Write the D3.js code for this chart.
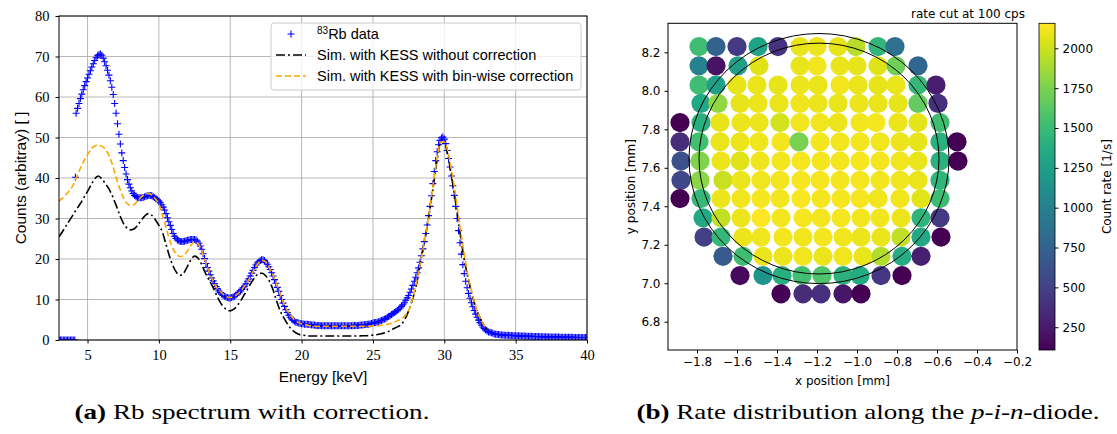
<!DOCTYPE html>
<html>
<head>
<meta charset="utf-8">
<script src="https://cdn.jsdelivr.net/npm/d3@7"></script>
<style>
body { margin: 0; background: #fff; }
</style>
</head>
<body>
<div id="chart"></div>
<script>
// ---- (a) spectrum: values ----
var lowEnergy = [3.0, 3.1, 3.2, 3.3, 3.4, 3.5, 3.6, 3.7, 3.8, 3.9, 4.0, 4.1, 4.15];
var lowCounts = [0, 0, 0, 0, 0, 0, 0, 0, 0, 0, 0, 0, 40.2];

// measured data, bins of 0.1 keV starting at 4.2 keV
var dataStart = 4.2, dataStep = 0.1;
var dataCounts = [
	56.0, 57.2, 58.4, 59.6, 60.7, 61.8, 62.8, 63.8,
	64.7, 65.6, 66.5, 67.4, 68.2, 69.0, 69.7, 70.2, 70.5, 70.6,
	70.3, 69.6, 68.7, 67.7, 66.6, 65.4, 64.0, 62.4, 60.6, 58.4,
	56.0, 53.4, 50.8, 48.4, 46.2, 44.3, 42.6, 41.0, 39.6, 38.5,
	37.6, 36.8, 36.2, 35.7, 35.4, 35.2, 35.1, 35.1, 35.1, 35.2,
	35.4, 35.5, 35.6, 35.7, 35.7, 35.6, 35.4, 35.2, 34.9, 34.6,
	34.3, 33.9, 33.4, 32.8, 32.1, 31.2, 30.2, 29.2, 28.3, 27.3,
	26.3, 25.6, 25.1, 24.7, 24.5, 24.3, 24.3, 24.3, 24.4, 24.5,
	24.6, 24.7, 24.8, 24.8, 24.8, 24.8, 24.7, 24.4, 23.9, 23.2,
	22.4, 21.3, 20.1, 18.9, 17.9, 17.0, 16.1, 15.3, 14.6, 13.9,
	13.2, 12.7, 12.1, 11.7, 11.3, 11.0, 10.8, 10.6, 10.5, 10.4,
	10.4, 10.5, 10.6, 10.8, 11.1, 11.4, 11.7, 12.1, 12.5, 12.9,
	13.3, 13.9, 14.5, 15.1, 15.8, 16.5, 17.2, 17.9, 18.5, 19.0,
	19.3, 19.6, 19.8, 19.8, 19.6, 19.2, 18.7, 18.1, 17.4, 16.6,
	15.8, 14.9, 14.0, 13.0, 12.0, 11.0, 10.0, 9.1, 8.3, 7.5,
	6.8, 6.1, 5.6, 5.2, 4.9, 4.6, 4.4, 4.3, 4.2, 4.1,
	4.0, 4.0, 3.9, 3.9, 3.9, 3.8, 3.8, 3.7, 3.7, 3.7,
	3.6, 3.6, 3.6, 3.6, 3.5, 3.5, 3.5, 3.5, 3.5, 3.5,
	3.5, 3.5, 3.5, 3.5, 3.5, 3.5, 3.5, 3.5, 3.5, 3.5,
	3.5, 3.5, 3.5, 3.5, 3.5, 3.5, 3.5, 3.6, 3.6, 3.6,
	3.6, 3.7, 3.7, 3.7, 3.8, 3.8, 3.9, 3.9, 4.0, 4.1,
	4.2, 4.3, 4.3, 4.4, 4.5, 4.7, 4.8, 5.0, 5.1, 5.3,
	5.6, 5.8, 6.0, 6.3, 6.5, 6.8, 7.0, 7.3, 7.6, 7.9,
	8.3, 8.7, 9.2, 9.8, 10.4, 11.0, 11.8, 12.6, 13.5, 14.5,
	15.5, 16.6, 17.8, 19.2, 20.8, 22.5, 24.3, 26.3, 28.4, 30.7,
	33.0, 35.6, 38.6, 41.6, 44.3, 46.5, 48.2, 49.3, 49.9, 50.1,
	49.6, 48.5, 46.8, 44.8, 42.7, 40.5, 38.1, 35.7, 33.0, 30.0,
	27.0, 24.0, 21.2, 18.6, 16.4, 14.5, 12.9, 11.5, 10.3, 9.2,
	8.2, 7.3, 6.4, 5.6, 4.9, 4.3, 3.7, 3.2, 2.8, 2.5,
	2.2, 2.0, 1.9, 1.8, 1.65, 1.5, 1.45, 1.4, 1.35, 1.3,
	1.25, 1.22, 1.2, 1.2, 1.18, 1.15, 1.14, 1.12, 1.1, 1.08,
	1.05, 1.04, 1.02, 1.0, 1.0, 0.98, 0.97, 0.95, 0.94, 0.92,
	0.9, 0.9, 0.88, 0.87, 0.86, 0.85, 0.84, 0.83, 0.82, 0.81,
	0.8, 0.79, 0.78, 0.77, 0.76, 0.75, 0.75, 0.74, 0.73, 0.72,
	0.71, 0.7, 0.7, 0.69, 0.68, 0.68, 0.67, 0.66, 0.66, 0.65,
	0.65, 0.64, 0.63, 0.63, 0.62, 0.62, 0.61, 0.61, 0.6, 0.6,
	0.6
];

// simulations, 0.25 keV steps from 3 keV
var simStart = 3.0, simStep = 0.25;
var simNoCorr = [
	25.5, 26.8, 28.2, 29.6, 31.0, 32.4, 33.7, 35.2, 36.7, 38.3, 39.8, 40.5, 39.8, 38.6, 37.3, 35.5,
	33.3, 30.9, 28.9, 27.7, 27.2, 27.4, 28.3, 29.5, 30.6, 31.2, 30.8, 29.7, 28.3, 26.6, 23.6, 20.6,
	18.2, 16.6, 16.0, 16.6, 18.2, 19.8, 20.7, 20.2, 18.6, 16.6, 14.9, 13.3, 11.4, 9.6, 8.3, 7.5,
	7.2, 7.6, 8.5, 9.8, 11.3, 12.8, 14.3, 15.6, 16.4, 16.5, 15.8, 14.5, 12.4, 9.6, 7.2, 5.5,
	4.0, 2.8, 2.0, 1.5, 1.25, 1.1, 1.0, 1.0, 1.0, 1.0, 1.0, 1.0, 1.0, 1.0, 1.0, 1.0,
	1.0, 1.0, 1.0, 1.0, 1.0, 1.05, 1.05, 1.1, 1.2, 1.3, 1.5, 1.7, 2.0, 2.4, 2.9, 3.3,
	3.9, 5.2, 7.2, 9.8, 12.8, 17.5, 22.5, 27.0, 32.5, 38.5, 44.5, 48.8, 48.6, 45.5, 40.5, 35.0,
	29.0, 23.0, 18.0, 14.0, 10.5, 7.6, 5.5, 3.8, 2.6
];
var simCorr = [
	34.2, 35.1, 36.0, 37.0, 38.3, 40.4, 42.4, 44.2, 45.8, 47.1, 47.9, 48.1, 47.8, 47.1, 45.6, 43.2,
	40.2, 37.5, 35.3, 33.8, 33.2, 33.4, 34.3, 35.3, 35.9, 36.2, 35.8, 34.9, 33.5, 30.8, 27.8, 24.7,
	22.5, 21.1, 20.6, 20.9, 22.0, 23.4, 24.3, 23.8, 22.0, 19.5, 16.9, 14.9, 13.2, 12.2, 11.3, 10.7,
	10.5, 10.8, 11.3, 12.2, 13.3, 14.6, 16.2, 17.8, 19.1, 19.7, 19.2, 17.8, 16.0, 13.9, 11.4, 9.1,
	7.3, 6.0, 5.0, 4.4, 4.0, 3.8, 3.6, 3.5, 3.4, 3.4, 3.4, 3.4, 3.4, 3.4, 3.4, 3.4,
	3.4, 3.4, 3.4, 3.4, 3.4, 3.4, 3.4, 3.4, 3.5, 3.5, 3.6, 3.7, 3.9, 4.1, 4.4, 4.8,
	5.2, 6.0, 7.3, 10.0, 13.3, 17.5, 22.3, 27.3, 32.8, 39.3, 45.0, 48.8, 48.9, 46.5, 42.0, 36.8,
	30.5, 24.5, 19.0, 14.5, 10.8, 7.8, 5.5, 3.9, 2.7
];
var energyTicks = [5, 10, 15, 20, 25, 30, 35, 40];
var countTicks = [0, 10, 20, 30, 40, 50, 60, 70, 80];

// ---- (b) rate map: one entry per scan row ----
var rowY = [8.23, 8.13, 8.03, 7.935, 7.835, 7.735, 7.635, 7.535, 7.44, 7.34, 7.24, 7.14, 7.04, 6.945];
var rowX = [
	[-1.79, -1.705, -1.60, -1.495, -1.395, -1.285, -1.20, -1.095, -1.005, -0.895, -0.81],
	[-1.79, -1.705, -1.595, -1.49, -1.285, -1.20, -1.085, -1.00, -0.895, -0.805, -0.695],
	[-1.79, -1.705, -1.60, -1.50, -1.395, -1.285, -1.195, -1.085, -0.995, -0.895, -0.805, -0.695, -0.605],
	[-1.78, -1.695, -1.585, -1.495, -1.39, -1.285, -1.195, -1.095, -0.99, -0.895, -0.795, -0.695, -0.595],
	[-1.885, -1.78, -1.685, -1.58, -1.49, -1.385, -1.285, -1.185, -1.095, -0.985, -0.905, -0.795, -0.695, -0.585],
	[-1.885, -1.79, -1.685, -1.585, -1.49, -1.38, -1.29, -1.185, -1.085, -0.985, -0.885, -0.785, -0.695, -0.585, -0.50],
	[-1.88, -1.785, -1.68, -1.585, -1.485, -1.38, -1.28, -1.18, -1.085, -0.985, -0.885, -0.785, -0.695, -0.585, -0.495],
	[-1.88, -1.785, -1.67, -1.58, -1.48, -1.385, -1.28, -1.185, -1.085, -0.985, -0.885, -0.785, -0.695, -0.585],
	[-1.885, -1.78, -1.68, -1.58, -1.48, -1.385, -1.28, -1.18, -1.08, -0.985, -0.895, -0.785, -0.68, -0.585],
	[-1.77, -1.68, -1.58, -1.48, -1.38, -1.27, -1.18, -1.08, -0.98, -0.885, -0.78, -0.68, -0.585],
	[-1.765, -1.68, -1.57, -1.48, -1.37, -1.27, -1.17, -1.07, -0.98, -0.88, -0.78, -0.68, -0.58],
	[-1.67, -1.57, -1.47, -1.37, -1.27, -1.17, -1.07, -0.97, -0.88, -0.775, -0.68],
	[-1.585, -1.47, -1.375, -1.275, -1.175, -1.07, -0.985, -0.88, -0.775],
	[-1.38, -1.27, -1.18, -1.07, -0.98]
];
var rowRate = [
	[1530, 740, 455, 1295, 400, 2090, 2100, 2080, 1940, 1450, 865],
	[1010, 210, 1255, 2060, 2090, 2110, 2090, 2080, 2060, 1715, 780],
	[1530, 1265, 2080, 2090, 2080, 2100, 2090, 2110, 2090, 2080, 2090, 1470, 270],
	[1335, 1820, 2080, 2100, 2090, 2110, 2100, 2090, 2100, 2090, 2080, 1665, 390],
	[110, 1410, 2080, 2100, 2100, 2020, 2110, 2110, 2100, 2110, 2130, 2100, 2070, 1530],
	[360, 1540, 2090, 2100, 2110, 2120, 1745, 2120, 2110, 2120, 2110, 2100, 2080, 1410, 110],
	[610, 1765, 2100, 2055, 2110, 2120, 2130, 2120, 2120, 2130, 2120, 2110, 2090, 1420, 110],
	[540, 1800, 1985, 2100, 2110, 2120, 2130, 2130, 2120, 2130, 2120, 2110, 2090, 1450],
	[110, 1470, 2100, 2110, 2130, 2120, 2140, 2120, 2130, 2130, 2110, 2110, 2065, 1520],
	[1335, 1970, 2100, 2157, 2120, 2130, 2120, 2130, 2120, 2110, 2100, 1440, 455],
	[485, 1470, 2100, 2110, 2120, 2110, 2120, 2110, 2100, 2090, 1960, 1335, 110],
	[690, 1520, 2090, 2100, 2110, 2100, 2110, 2090, 1920, 1365, 290],
	[150, 1170, 1390, 1540, 1585, 1420, 1360, 435, 110],
	[120, 360, 390, 220, 110]
];
var diodeCenter = [-1.19, 7.648];
var diodeRadii = [0.6, 0.65];
var posXTicks = [-1.8, -1.6, -1.4, -1.2, -1.0, -0.8, -0.6, -0.4, -0.2];
var posYTicks = [6.8, 7.0, 7.2, 7.4, 7.6, 7.8, 8.0, 8.2];
var rateTicks = [250, 500, 750, 1000, 1250, 1500, 1750, 2000];
var rateExtent = [107, 2157];

var SANS = "'Liberation Sans', Arial, sans-serif";
var SERIF = "'Liberation Serif', 'Times New Roman', serif";
var DEJAVU = "'DejaVu Sans', sans-serif";

var svg = d3.select("#chart").append("svg")
	.attr("width", 1117)
	.attr("height", 434);

// Spectrum Visualization
Spectrum = function(_svg){
	this.svg = _svg;
	this.initVis();
};

Spectrum.prototype.initVis = function() {
	var vis = this;

	vis.margin = { top: 16, left: 59 };
	vis.width = 528;
	vis.height = 324;

	vis.g = vis.svg.append("g")
		.attr("transform", "translate(" + vis.margin.left + "," + vis.margin.top + ")");

	vis.x = d3.scaleLinear().domain([3, 40]).range([0, vis.width]);
	vis.y = d3.scaleLinear().domain([0, 80]).range([vis.height, 0]);

	vis.svg.append("clipPath").attr("id", "clip-spec")
		.append("rect").attr("x", 0).attr("y", 0).attr("width", vis.width).attr("height", vis.height);

	vis.wrangleData();
};

Spectrum.prototype.wrangleData = function() {
	var vis = this;

	vis.points = lowEnergy.map(function(e, i){ return { e: e, c: lowCounts[i] }; })
		.concat(dataCounts.map(function(c, i){ return { e: dataStart + i * dataStep, c: c }; }));
	vis.noCorr = simNoCorr.map(function(c, i){ return { e: simStart + i * simStep, c: c }; });
	vis.corr = simCorr.map(function(c, i){ return { e: simStart + i * simStep, c: c }; });

	vis.updateVis();
};

Spectrum.prototype.updateVis = function() {
	var vis = this;

	// grid
	vis.g.append("g").selectAll("line").data(energyTicks).enter().append("line")
		.attr("x1", function(d){ return vis.x(d); }).attr("x2", function(d){ return vis.x(d); })
		.attr("y1", 0).attr("y2", vis.height)
		.attr("stroke", "#b0b0b0").attr("stroke-width", 0.9);
	vis.g.append("g").selectAll("line").data(countTicks).enter().append("line")
		.attr("y1", function(d){ return vis.y(d); }).attr("y2", function(d){ return vis.y(d); })
		.attr("x1", 0).attr("x2", vis.width)
		.attr("stroke", "#b0b0b0").attr("stroke-width", 0.9);

	var line = d3.line()
		.x(function(d){ return vis.x(d.e); })
		.y(function(d){ return vis.y(d.c); })
		.curve(d3.curveMonotoneX);

	var plot = vis.g.append("g").attr("clip-path", "url(#clip-spec)");

	plot.selectAll("path.pt").data(vis.points).enter().append("path")
		.attr("class", "pt")
		.attr("d", "M-3.5,0H3.5M0,-3.5V3.5")
		.attr("transform", function(d){ return "translate(" + vis.x(d.e) + "," + vis.y(d.c) + ")"; })
		.attr("stroke", "#0000ff").attr("stroke-width", 1.1).attr("fill", "none");

	plot.append("path").datum(vis.noCorr)
		.attr("d", line).attr("fill", "none")
		.attr("stroke", "#000").attr("stroke-width", 1.6)
		.attr("stroke-dasharray", "9,3,2,3");

	plot.append("path").datum(vis.corr)
		.attr("d", line).attr("fill", "none")
		.attr("stroke", "#ffa500").attr("stroke-width", 1.6)
		.attr("stroke-dasharray", "6,3");

	// axes
	var xAxis = d3.axisBottom(vis.x).tickValues(energyTicks).tickSize(3.5).tickPadding(6).tickFormat(d3.format("d"));
	var yAxis = d3.axisLeft(vis.y).tickValues(countTicks).tickSize(3.5).tickPadding(6).tickFormat(d3.format("d"));

	vis.g.append("g").attr("transform", "translate(0," + vis.height + ")").call(xAxis)
		.call(function(g){ g.select(".domain").remove(); })
		.selectAll("text").attr("font-family", SERIF).attr("font-size", 14.5).attr("fill", "#000");
	vis.g.append("g").call(yAxis)
		.call(function(g){ g.select(".domain").remove(); })
		.selectAll("text").attr("font-family", SERIF).attr("font-size", 14.5).attr("fill", "#000");

	vis.g.append("rect")
		.attr("width", vis.width).attr("height", vis.height)
		.attr("fill", "none").attr("stroke", "#000").attr("stroke-width", 1);

	vis.svg.append("text")
		.attr("x", vis.margin.left + vis.width / 2).attr("y", 382)
		.attr("text-anchor", "middle")
		.attr("font-family", SANS).attr("font-size", 15.5)
		.text("Energy [keV]");

	vis.svg.append("text")
		.attr("transform", "translate(26," + (vis.margin.top + vis.height / 2) + ") rotate(-90)")
		.attr("text-anchor", "middle")
		.attr("font-family", SANS).attr("font-size", 15.5)
		.text("Counts (arbitray) [ ]");

	// legend
	var leg = vis.svg.append("g").attr("transform", "translate(271,23)");
	leg.append("rect")
		.attr("width", 310).attr("height", 67).attr("rx", 3)
		.attr("fill", "#fff").attr("fill-opacity", 0.8)
		.attr("stroke", "#cccccc").attr("stroke-width", 1);

	leg.append("path")
		.attr("d", "M-3.5,0H3.5M0,-3.5V3.5")
		.attr("transform", "translate(20,11)")
		.attr("stroke", "#0000ff").attr("stroke-width", 1.1);
	leg.append("line").attr("x1", 5).attr("x2", 35).attr("y1", 32).attr("y2", 32)
		.attr("stroke", "#000").attr("stroke-width", 1.6).attr("stroke-dasharray", "9,3,2,3");
	leg.append("line").attr("x1", 5).attr("x2", 35).attr("y1", 53).attr("y2", 53)
		.attr("stroke", "#ffa500").attr("stroke-width", 1.6).attr("stroke-dasharray", "6,3");

	var t1 = leg.append("text").attr("x", 46).attr("y", 16)
		.attr("font-family", SANS).attr("font-size", 14.5);
	t1.append("tspan").attr("font-size", 10).attr("dy", -5).text("83");
	t1.append("tspan").attr("dy", 5).text("Rb data");

	leg.append("text").attr("x", 46).attr("y", 37)
		.attr("font-family", SANS).attr("font-size", 14.5)
		.text("Sim. with KESS without correction");
	leg.append("text").attr("x", 46).attr("y", 58)
		.attr("font-family", SANS).attr("font-size", 14.5)
		.text("Sim. with KESS with bin-wise correction");
};

// Rate map Visualization
RateMap = function(_svg){
	this.svg = _svg;
	this.initVis();
};

RateMap.prototype.initVis = function() {
	var vis = this;

	vis.margin = { top: 23.3, left: 668 };
	vis.width = 349;
	vis.height = 326.7;

	vis.g = vis.svg.append("g")
		.attr("transform", "translate(" + vis.margin.left + "," + vis.margin.top + ")");

	vis.x = d3.scaleLinear().domain([-1.945, -0.2]).range([0, vis.width]);
	vis.y = d3.scaleLinear().domain([6.653, 8.351]).range([vis.height, 0]);
	vis.color = d3.scaleSequential(d3.interpolateViridis).domain(rateExtent);

	vis.wrangleData();
};

RateMap.prototype.wrangleData = function() {
	var vis = this;

	vis.dots = [];
	rowY.forEach(function(y, i){
		rowX[i].forEach(function(x, j){
			vis.dots.push({ x: x, y: y, rate: rowRate[i][j] });
		});
	});

	vis.updateVis();
};

RateMap.prototype.updateVis = function() {
	var vis = this;

	vis.g.selectAll("circle.dot").data(vis.dots).enter().append("circle")
		.attr("class", "dot")
		.attr("cx", function(d){ return vis.x(d.x); })
		.attr("cy", function(d){ return vis.y(d.y); })
		.attr("r", 9.6)
		.attr("fill", function(d){ return vis.color(d.rate); });

	var kx = vis.x(1) - vis.x(0), ky = vis.y(0) - vis.y(1);
	vis.g.selectAll("ellipse.diode").data(diodeRadii).enter().append("ellipse")
		.attr("class", "diode")
		.attr("cx", vis.x(diodeCenter[0])).attr("cy", vis.y(diodeCenter[1]))
		.attr("rx", function(d){ return d * kx; })
		.attr("ry", function(d){ return d * ky; })
		.attr("fill", "none").attr("stroke", "#000").attr("stroke-width", 1);

	var xAxis = d3.axisBottom(vis.x).tickValues(posXTicks).tickSize(3.5).tickPadding(4).tickFormat(d3.format(".1f"));
	var yAxis = d3.axisLeft(vis.y).tickValues(posYTicks).tickSize(3.5).tickPadding(4).tickFormat(d3.format(".1f"));

	vis.g.append("g").attr("transform", "translate(0," + vis.height + ")").call(xAxis)
		.call(function(g){ g.select(".domain").remove(); })
		.selectAll("text").attr("font-family", DEJAVU).attr("font-size", 12).attr("fill", "#000");
	vis.g.append("g").call(yAxis)
		.call(function(g){ g.select(".domain").remove(); })
		.selectAll("text").attr("font-family", DEJAVU).attr("font-size", 12).attr("fill", "#000");

	vis.g.append("rect")
		.attr("width", vis.width).attr("height", vis.height)
		.attr("fill", "none").attr("stroke", "#000").attr("stroke-width", 1);

	vis.svg.append("text")
		.attr("x", vis.margin.left + vis.width / 2).attr("y", 385)
		.attr("text-anchor", "middle")
		.attr("font-family", DEJAVU).attr("font-size", 12)
		.text("x position [mm]");
	vis.svg.append("text")
		.attr("transform", "translate(635," + (vis.margin.top + vis.height / 2) + ") rotate(-90)")
		.attr("text-anchor", "middle")
		.attr("font-family", DEJAVU).attr("font-size", 12)
		.text("y position [mm]");
	vis.svg.append("text")
		.attr("x", 968).attr("y", 18)
		.attr("text-anchor", "middle")
		.attr("font-family", DEJAVU).attr("font-size", 12)
		.text("rate cut at 100 cps");

	// colorbar
	var cb = { x: 1039, w: 16 };
	var grad = vis.svg.append("defs").append("linearGradient")
		.attr("id", "viridis").attr("x1", 0).attr("y1", 1).attr("x2", 0).attr("y2", 0);
	d3.range(0, 1.0001, 0.05).forEach(function(t){
		grad.append("stop").attr("offset", t).attr("stop-color", d3.interpolateViridis(t));
	});

	var cbScale = d3.scaleLinear().domain(rateExtent).range([vis.height, 0]);
	var cbG = vis.svg.append("g").attr("transform", "translate(" + cb.x + "," + vis.margin.top + ")");
	cbG.append("rect").attr("width", cb.w).attr("height", vis.height)
		.attr("fill", "url(#viridis)").attr("stroke", "#000").attr("stroke-width", 0.8);
	cbG.append("g").attr("transform", "translate(" + cb.w + ",0)")
		.call(d3.axisRight(cbScale).tickValues(rateTicks).tickSize(3.5).tickPadding(4).tickFormat(d3.format("d")))
		.call(function(g){ g.select(".domain").remove(); })
		.selectAll("text").attr("font-family", DEJAVU).attr("font-size", 12).attr("fill", "#000");

	vis.svg.append("text")
		.attr("transform", "translate(1111," + (vis.margin.top + vis.height / 2) + ") rotate(-90)")
		.attr("text-anchor", "middle")
		.attr("font-family", DEJAVU).attr("font-size", 12)
		.text("Count rate [1/s]");
};

new Spectrum(svg);
new RateMap(svg);

// captions (LaTeX subcaptions, same size; stretched to the wider CM metrics)
function caption(cx, width, parts) {
	var t = svg.append("text").attr("x", cx - width / 2).attr("y", 419)
		.attr("font-family", SERIF).attr("font-size", 22)
		.attr("textLength", width).attr("lengthAdjust", "spacingAndGlyphs");
	parts.forEach(function(p){
		var s = t.append("tspan").text(p[0]);
		if (p[1] === "b") s.attr("font-weight", "bold");
		if (p[1] === "i") s.attr("font-style", "italic");
	});
}
caption(252, 355, [["(a)", "b"], ["\u00a0Rb spectrum with correction.", ""]]);
caption(868, 463, [["(b)", "b"], ["\u00a0Rate distribution along the ", ""], ["p", "i"], ["-", ""], ["i", "i"], ["-", ""], ["n", "i"], ["-diode.", ""]]);
</script>
</body>
</html>
